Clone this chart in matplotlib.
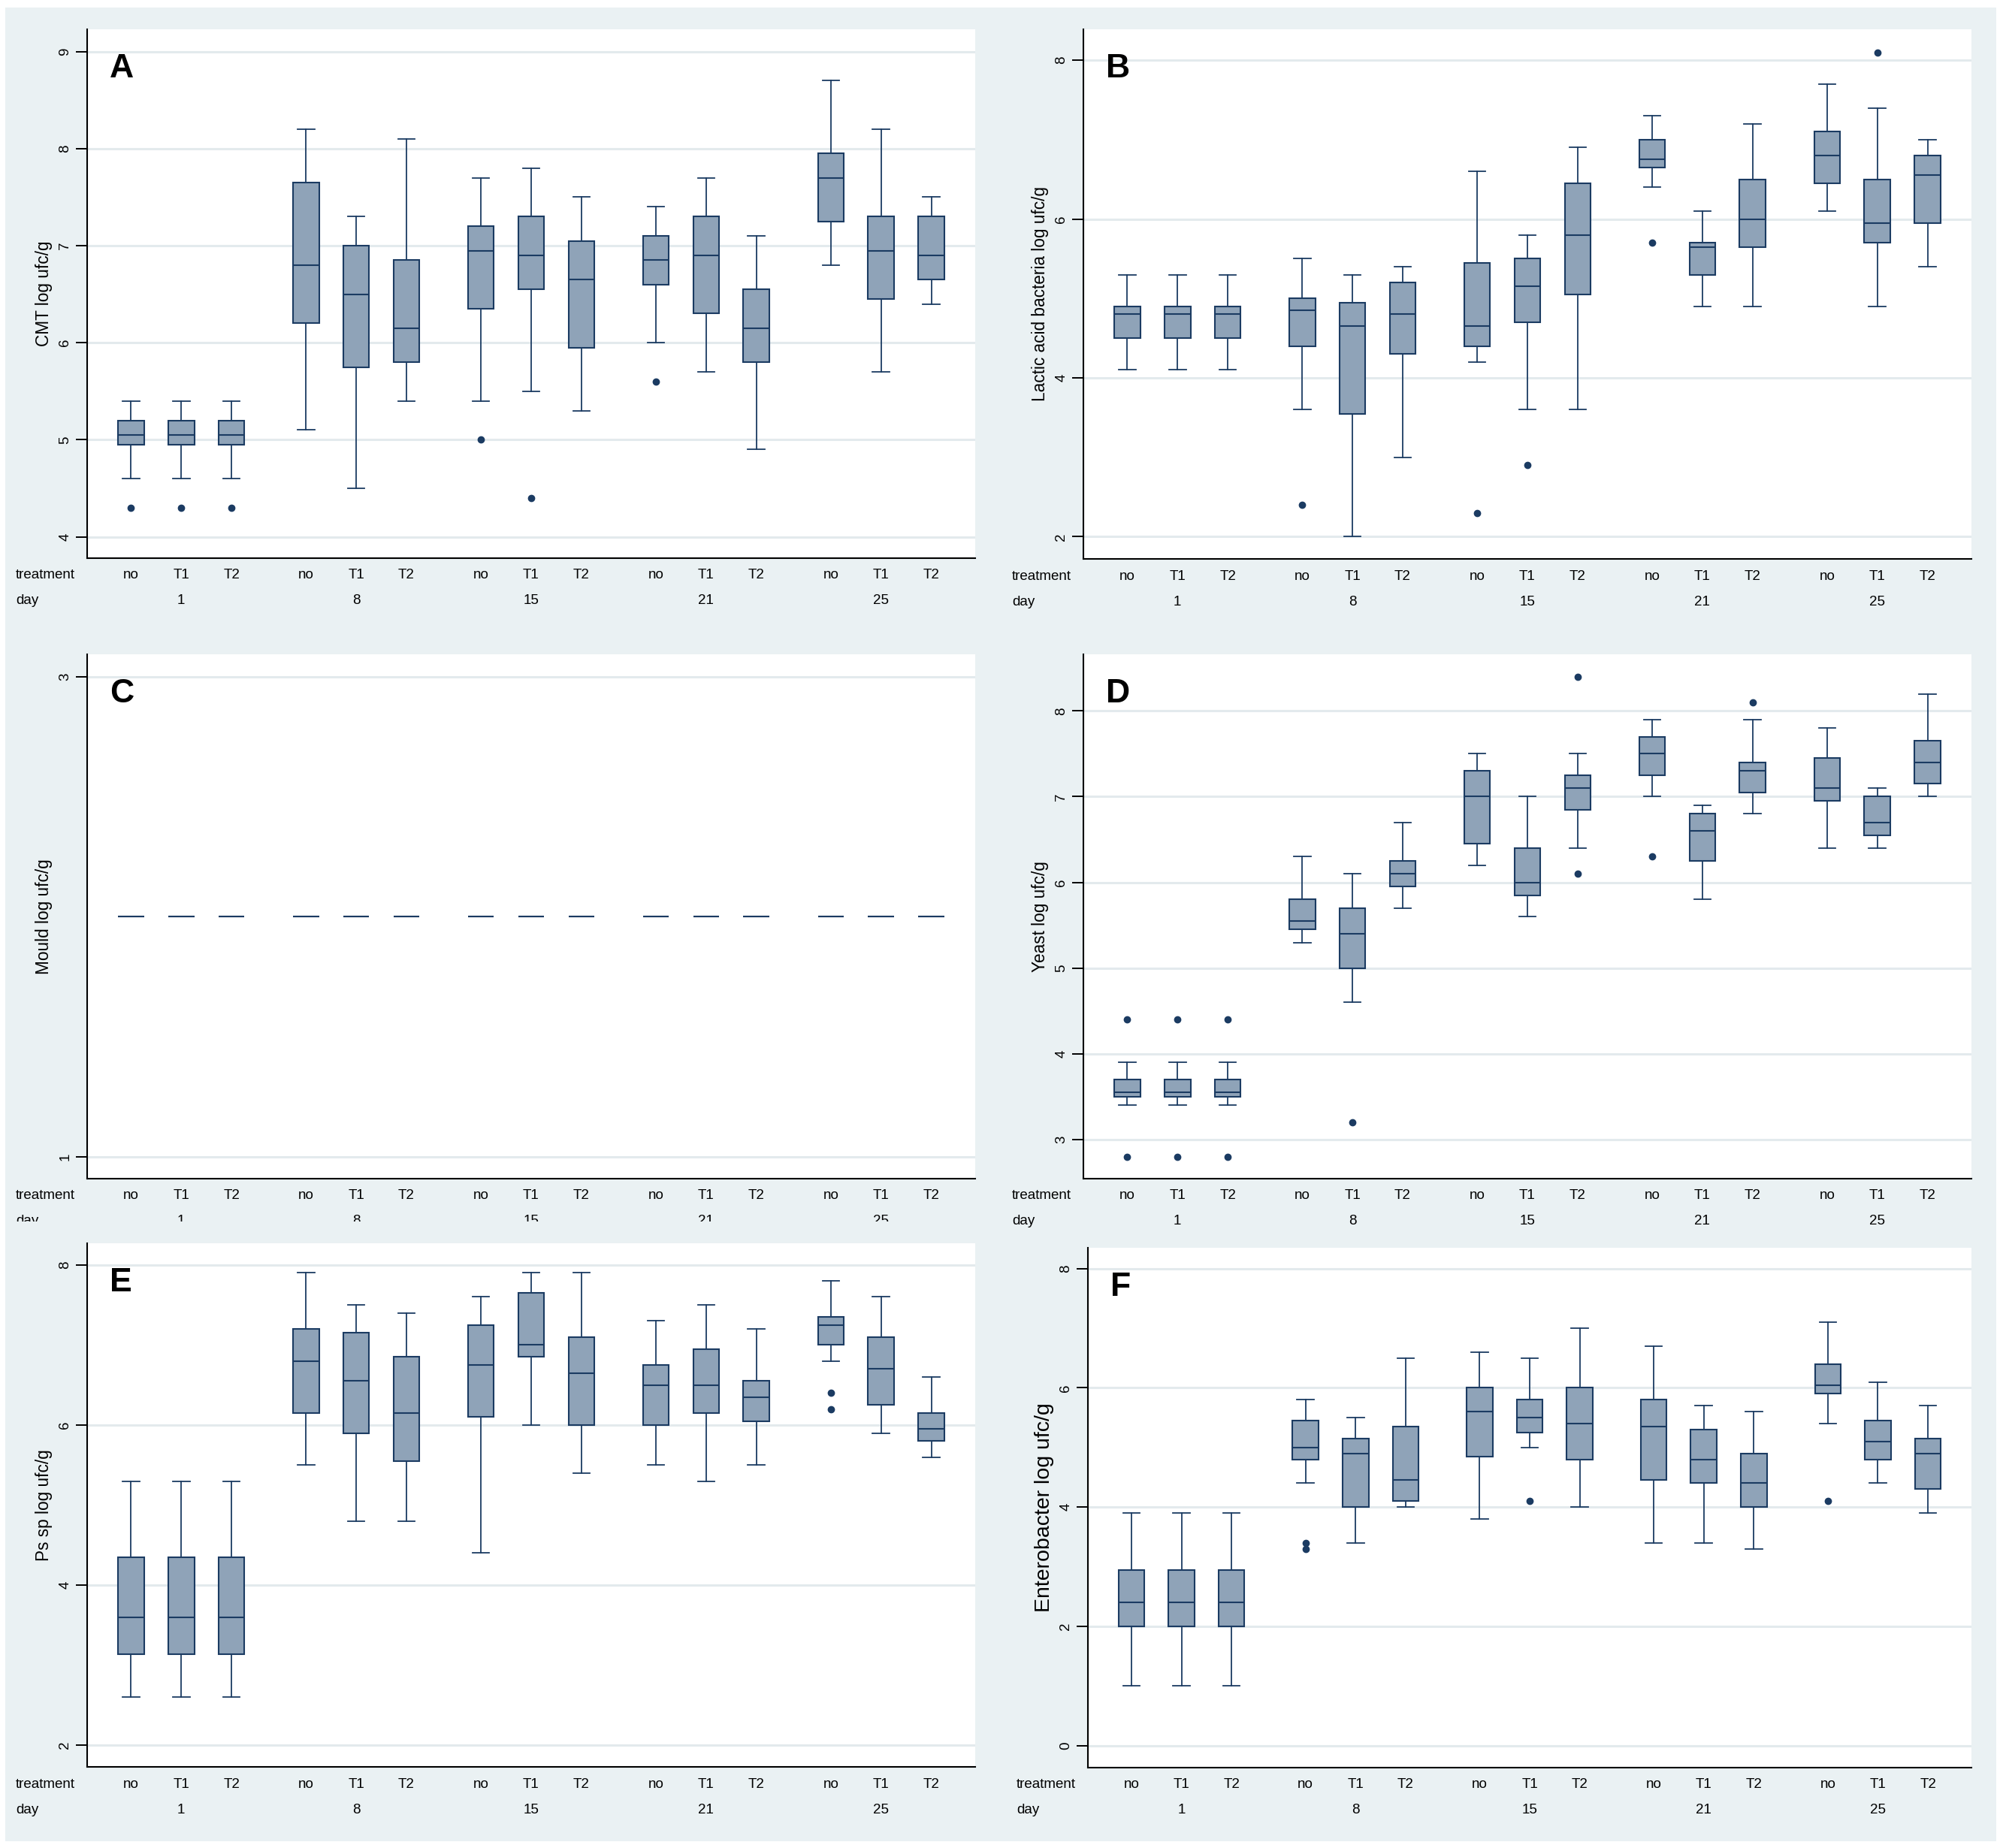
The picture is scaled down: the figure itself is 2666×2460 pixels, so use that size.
import matplotlib
matplotlib.use('Agg')
import matplotlib.pyplot as plt
from matplotlib.patches import Rectangle
from matplotlib.transforms import offset_copy, blended_transform_factory

plt.rcParams['font.family'] = ['Liberation Sans', 'DejaVu Sans']

days = ['1', '8', '15', '21', '25']
treatments = ['no', 'T1', 'T2']

# A - CMT
cmt_lo = [4.6, 4.6, 4.6, 5.1, 4.5, 5.4, 5.4, 5.5, 5.3, 6.0, 5.7, 4.9, 6.8, 5.7, 6.4]
cmt_q1 = [4.95, 4.95, 4.95, 6.2, 5.75, 5.8, 6.35, 6.55, 5.95, 6.6, 6.3, 5.8, 7.25, 6.45, 6.65]
cmt_med = [5.05, 5.05, 5.05, 6.8, 6.5, 6.15, 6.95, 6.9, 6.65, 6.85, 6.9, 6.15, 7.7, 6.95, 6.9]
cmt_q3 = [5.2, 5.2, 5.2, 7.65, 7.0, 6.85, 7.2, 7.3, 7.05, 7.1, 7.3, 6.55, 7.95, 7.3, 7.3]
cmt_hi = [5.4, 5.4, 5.4, 8.2, 7.3, 8.1, 7.7, 7.8, 7.5, 7.4, 7.7, 7.1, 8.7, 8.2, 7.5]
cmt_out = [[4.3], [4.3], [4.3], [], [], [], [5.0], [4.4], [], [5.6], [], [], [], [], []]

# B - lactic acid bacteria
lab_lo = [4.1, 4.1, 4.1, 3.6, 2.0, 3.0, 4.2, 3.6, 3.6, 6.4, 4.9, 4.9, 6.1, 4.9, 5.4]
lab_q1 = [4.5, 4.5, 4.5, 4.4, 3.55, 4.3, 4.4, 4.7, 5.05, 6.65, 5.3, 5.65, 6.45, 5.7, 5.95]
lab_med = [4.8, 4.8, 4.8, 4.85, 4.65, 4.8, 4.65, 5.15, 5.8, 6.75, 5.65, 6.0, 6.8, 5.95, 6.55]
lab_q3 = [4.9, 4.9, 4.9, 5.0, 4.95, 5.2, 5.45, 5.5, 6.45, 7.0, 5.7, 6.5, 7.1, 6.5, 6.8]
lab_hi = [5.3, 5.3, 5.3, 5.5, 5.3, 5.4, 6.6, 5.8, 6.9, 7.3, 6.1, 7.2, 7.7, 7.4, 7.0]
lab_out = [[], [], [], [2.4], [], [], [2.3], [2.9], [], [5.7], [], [], [], [8.1], []]

# C - mould
mould_lo = [2.0, 2.0, 2.0, 2.0, 2.0, 2.0, 2.0, 2.0, 2.0, 2.0, 2.0, 2.0, 2.0, 2.0, 2.0]
mould_q1 = [2.0, 2.0, 2.0, 2.0, 2.0, 2.0, 2.0, 2.0, 2.0, 2.0, 2.0, 2.0, 2.0, 2.0, 2.0]
mould_med = [2.0, 2.0, 2.0, 2.0, 2.0, 2.0, 2.0, 2.0, 2.0, 2.0, 2.0, 2.0, 2.0, 2.0, 2.0]
mould_q3 = [2.0, 2.0, 2.0, 2.0, 2.0, 2.0, 2.0, 2.0, 2.0, 2.0, 2.0, 2.0, 2.0, 2.0, 2.0]
mould_hi = [2.0, 2.0, 2.0, 2.0, 2.0, 2.0, 2.0, 2.0, 2.0, 2.0, 2.0, 2.0, 2.0, 2.0, 2.0]
mould_out = [[], [], [], [], [], [], [], [], [], [], [], [], [], [], []]

# D - yeast
yeast_lo = [3.4, 3.4, 3.4, 5.3, 4.6, 5.7, 6.2, 5.6, 6.4, 7.0, 5.8, 6.8, 6.4, 6.4, 7.0]
yeast_q1 = [3.5, 3.5, 3.5, 5.45, 5.0, 5.95, 6.45, 5.85, 6.85, 7.25, 6.25, 7.05, 6.95, 6.55, 7.15]
yeast_med = [3.55, 3.55, 3.55, 5.55, 5.4, 6.1, 7.0, 6.0, 7.1, 7.5, 6.6, 7.3, 7.1, 6.7, 7.4]
yeast_q3 = [3.7, 3.7, 3.7, 5.8, 5.7, 6.25, 7.3, 6.4, 7.25, 7.7, 6.8, 7.4, 7.45, 7.0, 7.65]
yeast_hi = [3.9, 3.9, 3.9, 6.3, 6.1, 6.7, 7.5, 7.0, 7.5, 7.9, 6.9, 7.9, 7.8, 7.1, 8.2]
yeast_out = [[4.4, 2.8], [4.4, 2.8], [4.4, 2.8], [], [3.2], [], [], [], [8.4, 6.1],
             [6.3], [], [8.1], [], [], []]

# E - Ps sp
ps_lo = [2.6, 2.6, 2.6, 5.5, 4.8, 4.8, 4.4, 6.0, 5.4, 5.5, 5.3, 5.5, 6.8, 5.9, 5.6]
ps_q1 = [3.14, 3.14, 3.14, 6.15, 5.9, 5.55, 6.1, 6.85, 6.0, 6.0, 6.15, 6.05, 7.0, 6.25, 5.8]
ps_med = [3.6, 3.6, 3.6, 6.8, 6.55, 6.15, 6.75, 7.0, 6.65, 6.5, 6.5, 6.35, 7.25, 6.7, 5.95]
ps_q3 = [4.35, 4.35, 4.35, 7.2, 7.15, 6.85, 7.25, 7.65, 7.1, 6.75, 6.95, 6.55, 7.35, 7.1, 6.15]
ps_hi = [5.3, 5.3, 5.3, 7.9, 7.5, 7.4, 7.6, 7.9, 7.9, 7.3, 7.5, 7.2, 7.8, 7.6, 6.6]
ps_out = [[], [], [], [], [], [], [], [], [], [], [], [], [6.4, 6.2], [], []]

# F - enterobacter
ent_lo = [1.0, 1.0, 1.0, 4.4, 3.4, 4.0, 3.8, 5.0, 4.0, 3.4, 3.4, 3.3, 5.4, 4.4, 3.9]
ent_q1 = [2.0, 2.0, 2.0, 4.8, 4.0, 4.1, 4.85, 5.25, 4.8, 4.45, 4.4, 4.0, 5.9, 4.8, 4.3]
ent_med = [2.4, 2.4, 2.4, 5.0, 4.9, 4.45, 5.6, 5.5, 5.4, 5.35, 4.8, 4.4, 6.05, 5.1, 4.9]
ent_q3 = [2.95, 2.95, 2.95, 5.45, 5.15, 5.35, 6.0, 5.8, 6.0, 5.8, 5.3, 4.9, 6.4, 5.45, 5.15]
ent_hi = [3.9, 3.9, 3.9, 5.8, 5.5, 6.5, 6.6, 6.5, 7.0, 6.7, 5.7, 5.6, 7.1, 6.1, 5.7]
ent_out = [[], [], [], [3.4, 3.3], [], [], [], [4.1], [], [], [], [], [4.1], [], []]

W, H = 2666, 2460
BG = '#EAF1F3'
FILL = '#8FA3B8'
NAVY = '#1B3B62'
GRID = '#E3EAED'

fig = plt.figure(figsize=(W / 100, H / 100), dpi=100)
fig.patch.set_facecolor(BG)
# white outer border
for r in [(0, 0, 7, H), (2657, 0, W - 2657, H), (0, 0, W, 10), (0, 2451, W, H - 2451)]:
    fig.add_artist(Rectangle((r[0] / W, 1 - (r[1] + r[3]) / H), r[2] / W, r[3] / H,
                             transform=fig.transFigure, facecolor='white',
                             edgecolor='none', zorder=5))


def px_axes(x0, x1, y0, y1, z=1):
    return fig.add_axes([x0 / W, 1 - y1 / H, (x1 - x0) / W, (y1 - y0) / H], zorder=z)


# box positions: groups of three with a wider gap between days
positions = []
for g in range(len(days)):
    for k in range(len(treatments)):
        positions.append(g * 3.48 + k)

panels = [
    ('A', 'CMT log ufc/g', (116, 1298, 39, 743), (3.78, 9.23), [4, 5, 6, 7, 8, 9],
     cmt_lo, cmt_q1, cmt_med, cmt_q3, cmt_hi, cmt_out, 16.3, 0),
    ('B', 'Lactic acid bacteria log ufc/g', (1442, 2624, 39, 744), (1.72, 8.39), [2, 4, 6, 8],
     lab_lo, lab_q1, lab_med, lab_q3, lab_hi, lab_out, 16.3, 0),
    ('C', 'Mould log ufc/g', (116, 1298, 871, 1569), (0.909, 3.094), [1, 3],
     mould_lo, mould_q1, mould_med, mould_q3, mould_hi, mould_out, 16.3, 0),
    ('D', 'Yeast log ufc/g', (1442, 2624, 871, 1569), (2.545, 8.66), [3, 4, 5, 6, 7, 8],
     yeast_lo, yeast_q1, yeast_med, yeast_q3, yeast_hi, yeast_out, 16.3, 0),
    ('E', 'Ps sp log ufc/g', (116, 1298, 1655, 2352), (1.73, 8.27), [2, 4, 6, 8],
     ps_lo, ps_q1, ps_med, ps_q3, ps_hi, ps_out, 16.3, 2),
    ('F', 'Enterobacter log ufc/g', (1448, 2624, 1661, 2353), (-0.37, 8.35), [0, 2, 4, 6, 8],
     ent_lo, ent_q1, ent_med, ent_q3, ent_hi, ent_out, 20.5, 2),
]

# background of panel E drawn over the clipped day row of panel C
bg_e = px_axes(7, 1333, 1626, 2451, z=1)
bg_e.set_facecolor(BG)
bg_e.set_xticks([])
bg_e.set_yticks([])
for s in bg_e.spines.values():
    s.set_visible(False)

for (letter, ylab, box, ylim, yticks, lo, q1, med, q3, hi, out, ylsize, z) in panels:
    ax = px_axes(*box, z=z)
    ax.set_facecolor('white')
    stats = []
    for i in range(len(med)):
        stats.append(dict(med=med[i], q1=q1[i], q3=q3[i], whislo=lo[i], whishi=hi[i],
                          fliers=out[i]))
    ax.bxp(stats, positions=positions, widths=0.52, capwidths=0.34, patch_artist=True,
           manage_ticks=False,
           boxprops=dict(facecolor=FILL, edgecolor=NAVY, linewidth=1.5),
           whiskerprops=dict(color=NAVY, linewidth=1.3),
           capprops=dict(color=NAVY, linewidth=1.3),
           medianprops=dict(color=NAVY, linewidth=1.5),
           flierprops=dict(marker='o', markerfacecolor=NAVY, markeredgecolor=NAVY,
                           markersize=6))
    ax.set_xlim(-0.87, positions[-1] + 0.87)
    ax.set_ylim(*ylim)
    ax.set_yticks(yticks)
    ax.set_yticklabels([str(t) for t in yticks])
    ax.set_xticks([])
    ax.grid(axis='y', color=GRID, linewidth=2.2, zorder=0)
    ax.set_axisbelow(True)
    for s in ['top', 'right']:
        ax.spines[s].set_visible(False)
    for s in ['left', 'bottom']:
        ax.spines[s].set_linewidth(1.5)
    ax.tick_params(axis='y', length=11, width=1.4, labelsize=13.5, labelrotation=90, pad=4)
    for t in ax.get_yticklabels():
        t.set_va('center')

    ax.text(0, 1, letter, transform=offset_copy(ax.transAxes, fig, x=30, y=-32, units='dots'),
            fontsize=32, fontweight='bold', ha='left', va='top')
    ax.text(0, 0.5, ylab, transform=offset_copy(ax.transAxes, fig, x=-58, y=0, units='dots'),
            rotation=90, ha='center', va='center', fontsize=ylsize)

    bt = blended_transform_factory(ax.transData, ax.transAxes)
    row1 = offset_copy(bt, fig, x=0, y=-23, units='dots')
    row2 = offset_copy(bt, fig, x=0, y=-57, units='dots')
    for i, p in enumerate(positions):
        ax.text(p, 0, treatments[i % 3], transform=row1, ha='center', va='center',
                fontsize=13.5, clip_on=False)
    for g, d in enumerate(days):
        ax.text(positions[g * 3 + 1], 0, d, transform=row2, ha='center', va='center',
                fontsize=13.5, clip_on=False)
    ax.text(0, 0, 'treatment', transform=offset_copy(ax.transAxes, fig, x=-95, y=-23, units='dots'),
            ha='left', va='center', fontsize=13.5, clip_on=False)
    ax.text(0, 0, 'day', transform=offset_copy(ax.transAxes, fig, x=-95, y=-57, units='dots'),
            ha='left', va='center', fontsize=13.5, clip_on=False)

fig.savefig('out.png', dpi=100, facecolor=fig.get_facecolor())
